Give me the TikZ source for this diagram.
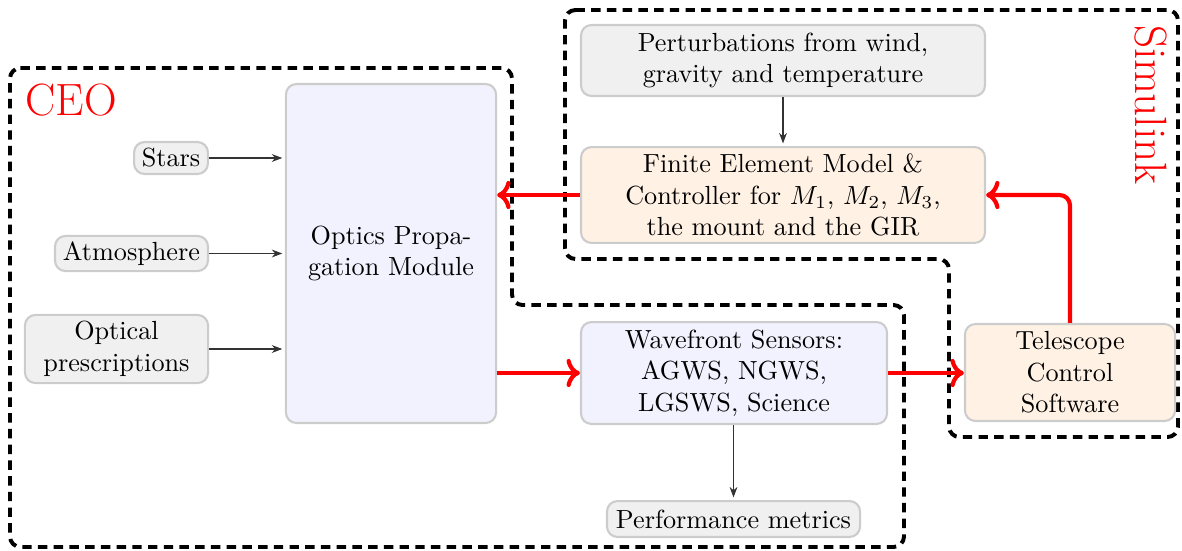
\documentclass[tikz,border=0pt]{standalone}
\usetikzlibrary{arrows.meta,calc}
\begin{document}
\begin{tikzpicture}[x=0.3817pt,y=-0.3817pt,
  box/.style={draw=gray!40, line width=0.8pt, rounded corners=4pt, align=center, inner sep=2pt},
  graybox/.style={box, fill=gray!12},
  bluebox/.style={box, fill=blue!5},
  orangebox/.style={box, fill=orange!10},
  thinarrow/.style={draw=black!80, -{Stealth[length=4pt,width=3pt]}, line width=0.4pt, shorten >=1pt},
  redarrow/.style={draw=red, ->, line width=1.6pt, rounded corners=4pt},
  region/.style={draw=black, line width=1.5pt, dash pattern=on 3.6pt off 2.4pt, rounded corners=4pt},
  regionlabel/.style={text=red, font=\LARGE, inner sep=0pt}]
\useasboundingbox (0,0) rectangle (1182,550);

% regions
\draw[region] (10,68) -- (512,68) -- (512,305) -- (904,305) -- (904,547) -- (10,547) -- cycle;
\draw[region] (565,10) -- (1178,10) -- (1178,437) -- (949,437) -- (949,259) -- (565,259) -- cycle;
\node[regionlabel, anchor=west] (ceo) at (25,100) {CEO};
\node[regionlabel, rotate=-90] (simulink) at (1151,105) {Simulink};

% nodes
\node[graybox, minimum width=28.2pt, minimum height=12.2pt] (stars) at (171,158) {Stars};
\node[graybox, minimum width=58.4pt, minimum height=13.4pt] (atm) at (131.5,253.5) {Atmosphere};
\node[graybox, minimum width=69.9pt, minimum height=26pt] (optpres) at (116.5,349) {Optical\\prescriptions};
\node[bluebox, minimum width=80.2pt, minimum height=129.4pt] (opm) at (391,253.5) {Optics Propa-\\gation Module};
\node[graybox, minimum width=154.2pt, minimum height=27.1pt] (pert) at (783,60.5) {Perturbations from wind,\\gravity and temperature};
\node[orangebox, minimum width=154.2pt, minimum height=36.6pt] (fem) at (783,195) {Finite Element Model \&\\Controller for $M_1$, $M_2$, $M_3$,\\the mount and the GIR};
\node[bluebox, minimum width=116.8pt, minimum height=38.9pt] (wfs) at (734,373) {Wavefront Sensors:\\AGWS, NGWS,\\LGSWS, Science};
\node[graybox, minimum width=96.6pt, minimum height=13.7pt] (perf) at (733.5,519) {Performance metrics};
\node[orangebox, minimum width=80.2pt, minimum height=37pt] (tcs) at (1070,372.5) {Telescope\\Control\\Software};

% connectors
\draw[thinarrow] (stars.east) -- (opm.west |- stars.east);
\draw[thinarrow] (atm.east) -- (opm.west |- atm.east);
\draw[thinarrow] (optpres.east) -- (opm.west |- optpres.east);
\draw[thinarrow] (pert.south) -- (fem.north);
\draw[thinarrow] (wfs.south -| perf.north) -- (perf.north);
\draw[redarrow] (fem.west) -- (opm.east |- fem.west);
\draw[redarrow] (opm.east |- wfs.west) -- (wfs.west);
\draw[redarrow] (wfs.east) -- (tcs.west |- wfs.east);
\draw[redarrow] (tcs.north) |- (fem.east);
\end{tikzpicture}
\end{document}
